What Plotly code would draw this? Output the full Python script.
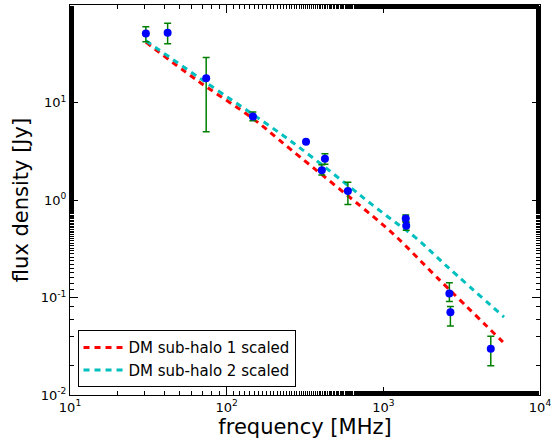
import plotly.graph_objects as go

# observed data
freq = [30.5, 42, 74, 147, 321, 405, 424, 594, 1390, 1400, 2640, 2680, 4850]
flux = [51, 52, 17.7, 7.2, 3.96, 2.02, 2.65, 1.24, 0.647, 0.543, 0.110, 0.0707, 0.0298]
err_hi = [60, 65, 29, 8.0, 3.96, 2.30, 2.98, 1.52, 0.70, 0.59, 0.1415, 0.081, 0.040]
err_lo = [42, 40, 5.0, 6.5, 3.96, 1.80, 2.33, 0.90, 0.60, 0.49, 0.091, 0.051, 0.020]

# model curves
m1_freq = [30.5, 64.6, 147, 253, 950, 1239, 2198, 5800]
m1_flux = [41.6, 16.9, 6.84, 3.36, 0.593, 0.405, 0.161, 0.035]
m2_freq = [30.5, 67.6, 265, 993, 1592, 2546, 5890]
m2_flux = [43.0, 17.7, 3.87, 0.735, 0.416, 0.209, 0.063]

# tick labels
x_tickvals = [10, 100, 1000, 10000]
x_ticktext = ["10<sup>1</sup>", "10<sup>2</sup>", "10<sup>3</sup>", "10<sup>4</sup>"]
y_tickvals = [0.01, 0.1, 1, 10, 100]
y_ticktext = ["10<sup>-2</sup>", "10<sup>-1</sup>", "10<sup>0</sup>", "10<sup>1</sup>", "10<sup>2</sup>"]

plus = [h - f for h, f in zip(err_hi, flux)]
minus = [f - l for f, l in zip(flux, err_lo)]

fig = go.Figure()
fig.add_trace(go.Scatter(
    x=m1_freq, y=m1_flux, mode="lines", name="DM sub-halo 1 scaled",
    line=dict(color="#ff0000", width=3, dash="6px,5px", shape="spline")))
fig.add_trace(go.Scatter(
    x=m2_freq, y=m2_flux, mode="lines", name="DM sub-halo 2 scaled",
    line=dict(color="#00bfbf", width=3, dash="6px,5px", shape="spline")))
fig.add_trace(go.Scatter(
    x=freq, y=flux, mode="markers", showlegend=False,
    marker=dict(color="#0000ff", size=8, line=dict(width=0)),
    error_y=dict(type="data", symmetric=False, array=plus, arrayminus=minus,
                 color="#008000", thickness=1.5, width=3.5)))

axis_common = dict(
    type="log", showgrid=False, zeroline=False, showline=True, linecolor="black",
    linewidth=1, mirror="allticks", ticks="inside", ticklen=8, tickwidth=1,
    tickcolor="black",
    tickfont=dict(family="DejaVu Sans", size=13, color="black"),
    minor=dict(ticks="inside", ticklen=4, tickcolor="black", tickwidth=1),
)
fig.update_xaxes(range=[1, 4], tickmode="array", tickvals=x_tickvals, ticktext=x_ticktext,
                 title=dict(text="frequency [MHz]",
                            font=dict(family="DejaVu Sans", size=21, color="black"), standoff=2),
                 **axis_common)
fig.update_yaxes(range=[-2, 2], tickmode="array", tickvals=y_tickvals, ticktext=y_ticktext,
                 title=dict(text="flux density [Jy]",
                            font=dict(family="DejaVu Sans", size=21, color="black"), standoff=6),
                 **axis_common)

fig.update_layout(
    width=556, height=445, margin=dict(l=70, r=16, t=5, b=50),
    paper_bgcolor="white", plot_bgcolor="white",
    font=dict(family="DejaVu Sans", color="black"),
    legend=dict(x=0.016, y=0.02, xanchor="left", yanchor="bottom",
                bordercolor="black", borderwidth=1, bgcolor="white", itemwidth=40,
                font=dict(family="DejaVu Sans", size=15, color="black")),
)
fig.write_html("out.html")
